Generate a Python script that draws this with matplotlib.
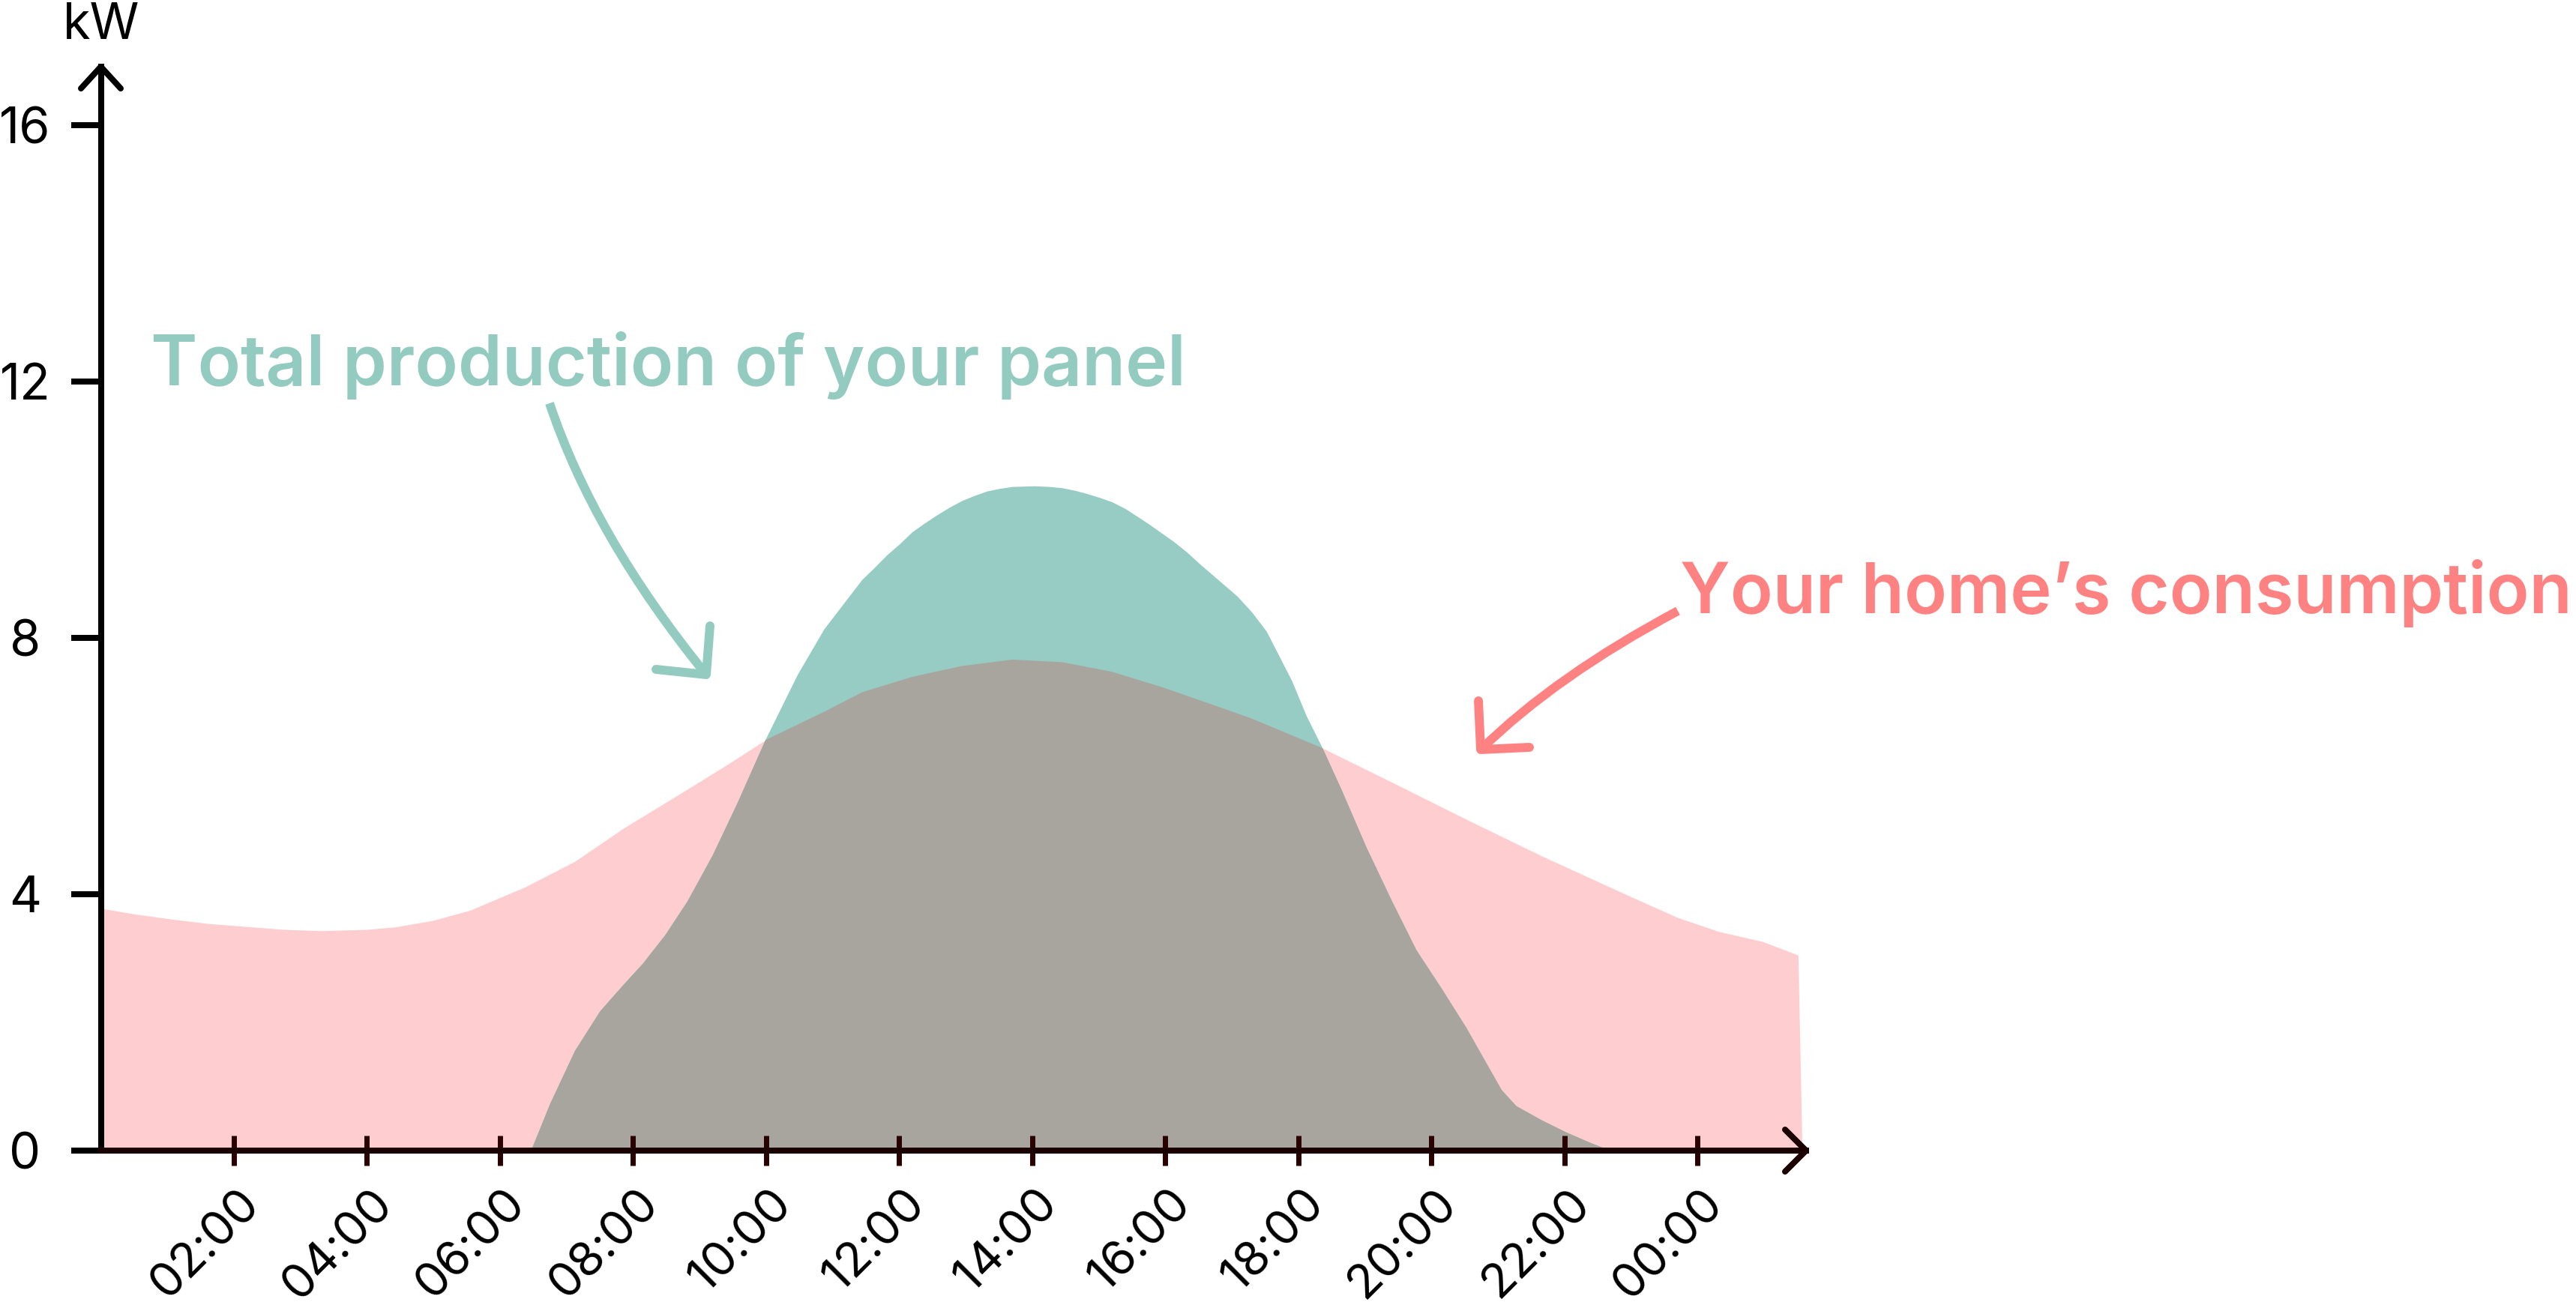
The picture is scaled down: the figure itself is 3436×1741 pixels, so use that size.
import matplotlib
matplotlib.use('Agg')
import matplotlib.pyplot as plt
from matplotlib.path import Path
from matplotlib.patches import PathPatch
from matplotlib.transforms import Affine2D

# ---------------- data (hours since midnight, kW) ----------------
cons_hours = [0.0, 0.51, 1.07, 1.63, 2.75, 3.31, 4.0, 4.43, 4.99, 5.55, 6.37,
              7.12, 7.87, 8.63, 9.38, 9.98, 10.88, 11.44, 12.19, 12.94, 13.70,
              14.45, 15.20, 15.95, 16.70, 17.30, 18.36, 19.40, 20.52, 21.65,
              23.0, 23.69, 24.31, 24.98, 25.51, 25.57]
cons_kw = [3.78, 3.69, 3.61, 3.54, 3.45, 3.43, 3.45, 3.49, 3.59, 3.75, 4.11,
           4.51, 5.04, 5.52, 6.00, 6.40, 6.85, 7.15, 7.39, 7.56, 7.66,
           7.62, 7.47, 7.23, 6.96, 6.74, 6.28, 5.75, 5.17, 4.60,
           3.96, 3.64, 3.42, 3.26, 3.05, 0.0]

prod_hours = [6.46, 6.75, 7.12, 7.50, 7.84, 8.14, 8.48, 8.81, 9.19, 9.56, 9.98,
              10.47, 10.87, 11.44, 11.63, 11.82, 12.01, 12.19, 12.38, 12.57,
              12.76, 12.94, 13.13, 13.32, 13.51, 13.70, 14.03, 14.26, 14.45,
              14.64, 14.82, 15.01, 15.20, 15.39, 15.57, 15.76, 15.95, 16.14,
              16.32, 16.51, 16.70, 16.89, 17.08, 17.30, 17.52, 17.90, 18.12,
              18.36, 18.65, 19.02, 19.40, 19.77, 20.15, 20.52, 20.82, 21.05,
              21.27, 21.65, 22.02, 22.40, 22.70]
prod_kw = [0.0, 0.74, 1.56, 2.18, 2.58, 2.92, 3.37, 3.89, 4.61, 5.42, 6.40,
           7.43, 8.14, 8.91, 9.10, 9.30, 9.47, 9.65, 9.79, 9.92,
           10.04, 10.14, 10.22, 10.29, 10.33, 10.36, 10.37, 10.36, 10.34,
           10.30, 10.25, 10.19, 10.12, 10.02, 9.90, 9.77, 9.63, 9.49,
           9.34, 9.16, 8.99, 8.82, 8.65, 8.40, 8.10, 7.33, 6.78,
           6.28, 5.62, 4.73, 3.90, 3.13, 2.53, 1.92, 1.37, 0.95,
           0.70, 0.48, 0.29, 0.12, 0.0]

x_ticks = [2, 4, 6, 8, 10, 12, 14, 16, 18, 20, 22, 24]
x_labels = ['02:00', '04:00', '06:00', '08:00', '10:00', '12:00', '14:00',
            '16:00', '18:00', '20:00', '22:00', '00:00']
y_ticks = [0, 4, 8, 12, 16]
y_labels = ['0', '4', '8', '12', '16']

prod_label = 'Total production of your panel'
cons_label = 'Your home\u2019s consumption'

# ---------------- style ----------------
PINK_FILL = '#FECDCF'
TEAL_FILL = '#96CCC3'
GRAY_FILL = '#A8A59F'
TEAL_TEXT = '#93CBC1'
PINK_TEXT = '#FF8282'
FONT = ['Inter', 'DejaVu Sans']
plt.rcParams['font.family'] = FONT

W, H = 3436, 1741
fig = plt.figure(figsize=(W / 100, H / 100), dpi=100)
PX = Affine2D().scale(1 / W, -1 / H).translate(0, 1) + fig.transFigure

x0, y0, xt, yt = 134.5, 1535, 2409, 89
ax = fig.add_axes([x0 / W, (H - y0) / H, (xt - x0) / W, (y0 - yt) / H])
ax.set_xlim(0, 25.63)
ax.set_ylim(0, 16.91)
ax.patch.set_visible(False)

# fills
cons_poly = ax.fill_between(cons_hours, 0, cons_kw, color=PINK_FILL, lw=0, zorder=1)
ax.fill_between(prod_hours, 0, prod_kw, color=TEAL_FILL, lw=0, zorder=1.1)
overlap = ax.fill_between(prod_hours, 0, prod_kw, color=GRAY_FILL, lw=0, zorder=1.2)
overlap.set_clip_path(cons_poly.get_paths()[0], ax.transData)

# spines / ticks
for s in ['top', 'right']:
    ax.spines[s].set_visible(False)
ax.spines['left'].set_linewidth(5.76)
ax.spines['left'].set_color('black')
ax.spines['bottom'].set_linewidth(5.76)
ax.spines['bottom'].set_color('#1a0000')
ax.spines['left'].set_zorder(5)
ax.spines['bottom'].set_zorder(5)

ax.set_yticks(y_ticks)
ax.set_yticklabels(y_labels)
ax.tick_params(axis='y', direction='out', length=28.8, width=5.76, color='black',
               pad=44, labelsize=48)
for lbl in ax.get_yticklabels():
    lbl.set_ha('center')

ax.set_xticks(x_ticks)
ax.tick_params(axis='x', direction='inout', length=28.8, width=5.0, color='#2a0000',
               labelbottom=False)
for h, lab in zip(x_ticks, x_labels):
    ax.annotate(lab, xy=(h, 0), xycoords='data', xytext=(25, -62),
                textcoords='offset pixels', rotation=45, ha='right', va='center',
                rotation_mode='anchor', fontsize=46, color='black',
                annotation_clip=False)

# axis arrow heads (pixel layout)
def polyline(pts, color, lw, cap='round'):
    codes = [Path.MOVETO] + [Path.LINETO] * (len(pts) - 1)
    p = PathPatch(Path(pts, codes), transform=PX, fill=False, edgecolor=color,
                  lw=lw, capstyle=cap, joinstyle='round', zorder=6)
    fig.add_artist(p)

polyline([(108, 118), (134.5, 89), (161, 118)], 'black', 5.76)
polyline([(2381, 1507), (2409, 1535), (2381, 1563)], '#1a0000', 5.76)

# kW unit
fig.text(135, 52, 'kW', transform=PX, ha='center', va='baseline', fontsize=48,
         color='black')

# curved annotation arrows
def curve_arrow(p0, c, p2, barb1, barb2, color):
    path = Path([p0, c, p2], [Path.MOVETO, Path.CURVE3, Path.CURVE3])
    fig.add_artist(PathPatch(path, transform=PX, fill=False, edgecolor=color,
                             lw=8.6, capstyle='butt', zorder=6))
    polyline([barb1, p2, barb2], color, 8.6)

curve_arrow((733, 538), (792, 715), (942, 900), (875, 893), (947, 835), TEAL_TEXT)
curve_arrow((2238, 815), (2075, 902), (1975, 1000), (1972, 935), (2040, 997), PINK_TEXT)

# titles (width fitted to the reference layout)
fig.canvas.draw()
renderer = fig.canvas.get_renderer()

def fitted_text(x, y, s, target_w, color):
    t = fig.text(x, y, s, transform=PX, ha='left', va='baseline',
                 fontsize=66, fontweight='semibold', color=color)
    w = t.get_window_extent(renderer).width
    t.set_fontsize(66 * target_w / w)
    return t

fitted_text(201, 514, prod_label, 1381, TEAL_TEXT)
fitted_text(2241, 818, cons_label, 1190, PINK_TEXT)

fig.savefig('out.png', dpi=100, facecolor='white')
